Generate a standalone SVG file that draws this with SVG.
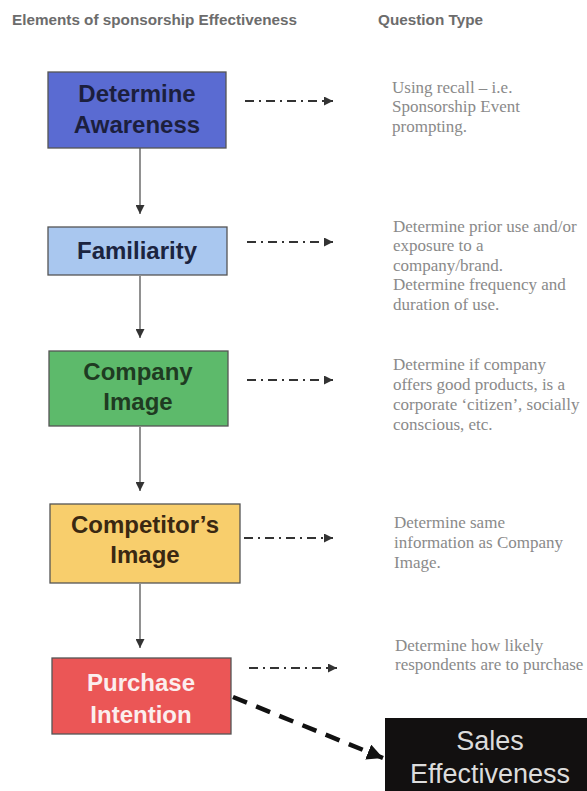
<svg xmlns="http://www.w3.org/2000/svg" width="587" height="791" viewBox="0 0 587 791">
<defs>
<style>
.hdr{font-family:"Liberation Sans",Arial,sans-serif;font-weight:bold;font-size:15px;fill:#6c6c6c}
.box{stroke:#555;stroke-width:1.3}
.lbl{font-family:"Liberation Sans",Arial,sans-serif;font-weight:bold;font-size:24px;text-anchor:middle}
.q{font-family:"Liberation Serif","Times New Roman",serif;font-size:17px;fill:#8a8a8a}
.flow{stroke:#555;stroke-width:1.3;fill:none}
.dd{stroke:#333;stroke-width:1.8;fill:none;stroke-dasharray:9 5 2 5}
.big{stroke:#111;stroke-width:4.5;fill:none;stroke-dasharray:15 10}
.se{font-family:"Liberation Sans",Arial,sans-serif;font-size:27px;fill:#dcdcdc;text-anchor:middle}
</style>
<marker id="ah" viewBox="0 0 10 10" refX="10" refY="5" markerWidth="9" markerHeight="9" markerUnits="userSpaceOnUse" orient="auto">
<path d="M0,0 L10,5 L0,10 z" fill="#333"/>
</marker>
<marker id="ahb" viewBox="0 0 10 10" refX="10" refY="5" markerWidth="16" markerHeight="16" markerUnits="userSpaceOnUse" orient="auto">
<path d="M0,0 L10,5 L0,10 z" fill="#111"/>
</marker>
</defs>
<rect width="587" height="791" fill="#ffffff"/>
<text class="hdr" x="12" y="25" textLength="285" lengthAdjust="spacingAndGlyphs">Elements of sponsorship Effectiveness</text>
<text class="hdr" x="378" y="25" textLength="105" lengthAdjust="spacingAndGlyphs">Question Type</text>

<g id="connectors">
<line class="flow" x1="140" y1="148" x2="140" y2="214" marker-end="url(#ah)"/>
<line class="flow" x1="140" y1="276" x2="140" y2="338" marker-end="url(#ah)"/>
<line class="flow" x1="140" y1="427" x2="140" y2="491" marker-end="url(#ah)"/>
<line class="flow" x1="140" y1="584" x2="140" y2="648" marker-end="url(#ah)"/>
<line class="dd" x1="245" y1="101" x2="333" y2="101" marker-end="url(#ah)"/>
<line class="dd" x1="247" y1="242" x2="333" y2="242" marker-end="url(#ah)"/>
<line class="dd" x1="247" y1="380" x2="333" y2="380" marker-end="url(#ah)"/>
<line class="dd" x1="244" y1="538" x2="333" y2="538" marker-end="url(#ah)"/>
<line class="dd" x1="249" y1="668" x2="337" y2="668" marker-end="url(#ah)"/>
<line class="big" x1="233" y1="697" x2="383" y2="758" marker-end="url(#ahb)"/>
</g>

<g id="awareness">
<rect class="box" x="48" y="72" width="178" height="76" fill="#5a6bd2"/>
<text class="lbl" x="137" y="102" fill="#1c1f3d">Determine</text>
<text class="lbl" x="137" y="133" fill="#1c1f3d">Awareness</text>
</g>
<g id="familiarity">
<rect class="box" x="48" y="227" width="179" height="48" fill="#a9c7ef"/>
<text class="lbl" x="137" y="259" fill="#1b2440">Familiarity</text>
</g>
<g id="company">
<rect class="box" x="49" y="351" width="179" height="75" fill="#5dba6b"/>
<text class="lbl" x="138" y="380" fill="#1f3b22">Company</text>
<text class="lbl" x="138" y="410" fill="#1f3b22">Image</text>
</g>
<g id="competitor">
<rect class="box" x="50" y="504" width="190" height="79" fill="#f8ce6c"/>
<text class="lbl" x="145" y="533" fill="#3a2812">Competitor’s</text>
<text class="lbl" x="145" y="563" fill="#3a2812">Image</text>
</g>
<g id="purchase">
<rect class="box" x="52" y="658" width="179" height="76" fill="#eb5656"/>
<text class="lbl" x="141" y="691" fill="#fbeeee">Purchase</text>
<text class="lbl" x="141" y="723" fill="#fbeeee">Intention</text>
</g>
<g id="sales">
<rect x="385" y="718" width="210" height="80" fill="#121010"/>
<text class="se" x="490" y="750">Sales</text>
<text class="se" x="490" y="783">Effectiveness</text>
</g>

<g id="questions">
<text class="q" x="392" y="93">Using recall – i.e.</text>
<text class="q" x="392" y="112">Sponsorship Event</text>
<text class="q" x="392" y="132">prompting.</text>
<text class="q" x="393" y="232">Determine prior use and/or</text>
<text class="q" x="393" y="251">exposure to a</text>
<text class="q" x="393" y="271">company/brand.</text>
<text class="q" x="393" y="290">Determine frequency and</text>
<text class="q" x="393" y="310">duration of use.</text>
<text class="q" x="393" y="370">Determine if company</text>
<text class="q" x="393" y="390">offers good products, is a</text>
<text class="q" x="393" y="410">corporate ‘citizen’, socially</text>
<text class="q" x="393" y="430">conscious, etc.</text>
<text class="q" x="394" y="528">Determine same</text>
<text class="q" x="394" y="548">information as Company</text>
<text class="q" x="394" y="568">Image.</text>
<text class="q" x="395" y="651">Determine how likely</text>
<text class="q" x="395" y="670">respondents are to purchase</text>
</g>
</svg>
